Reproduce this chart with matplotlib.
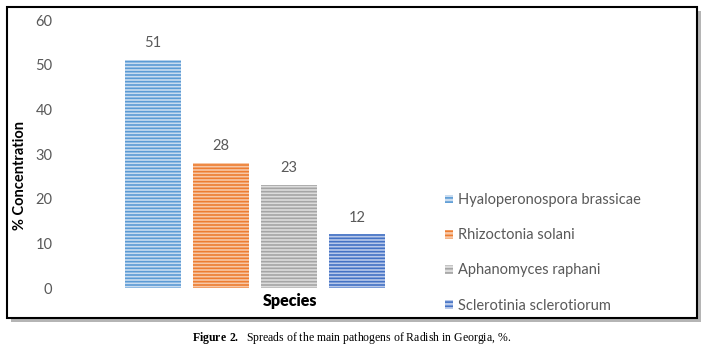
import matplotlib
matplotlib.use('Agg')
from matplotlib import pyplot as plt
from matplotlib.patches import Rectangle, Patch

species = ['Hyaloperonospora brassicae', 'Rhizoctonia solani',
           'Aphanomyces raphani', 'Sclerotinia sclerotiorum']
values = [51, 28, 23, 12]
face_colors = ['#c9dcf0', '#f7c7a6', '#dcdcdc', '#b9c9ea']
hatch_colors = ['#5b9bd5', '#ed7d31', '#a5a5a5', '#4472c4']
y_ticks = [0, 10, 20, 30, 40, 50, 60]

TEXT_GRAY = '#595959'


def main():
    plt.rcParams['hatch.linewidth'] = 1.2
    plt.rcParams['font.family'] = ['Lato', 'DejaVu Sans']
    plt.rcParams['mathtext.fontset'] = 'custom'
    plt.rcParams['mathtext.bf'] = 'Liberation Serif:bold'
    plt.rcParams['mathtext.rm'] = 'Liberation Serif'
    fig = plt.figure(figsize=(7.05, 3.53), dpi=100)
    W, H = 705, 353

    # frame with drop shadow
    fig.patches.append(Rectangle((11 / W, 31 / H), 690 / W, 311 / H, transform=fig.transFigure,
                                 facecolor='#b5b5b5', edgecolor='none', zorder=-3))
    fig.patches.append(Rectangle((7 / W, 35 / H), 690 / W, 311 / H, transform=fig.transFigure,
                                 facecolor='white', edgecolor='black', linewidth=1.5, zorder=-2))

    ax = fig.add_axes([90 / W, 65 / H, 330 / W, 268 / H])
    ax.set_facecolor('none')
    x = list(range(len(values)))
    ax.bar(x, values, width=0.82, color=face_colors, edgecolor=hatch_colors,
           linewidth=0, hatch='-----')
    for xi, v in zip(x, values):
        ax.text(xi, v + 2.2, str(v), ha='center', va='bottom', fontsize=10.5, color=TEXT_GRAY)

    ax.set_xlim(-0.926, 3.93)
    ax.set_ylim(0, 60)
    ax.set_yticks(y_ticks)
    ax.set_xticks([])
    ax.tick_params(axis='y', length=0, pad=27, labelsize=10.5, labelcolor=TEXT_GRAY)
    for s in ax.spines.values():
        s.set_visible(False)

    fig.text(20 / W, 1 - 175 / H, '% Concentration', rotation=90, ha='center', va='center',
             fontsize=10.5, fontweight='bold', color='black')
    fig.text(290 / W, 1 - 301 / H, 'Species', ha='center', va='center',
             fontsize=11.5, fontweight='heavy', color='black')

    handles = [Patch(facecolor=fc, edgecolor=hc, hatch='----', linewidth=0)
               for fc, hc in zip(face_colors, hatch_colors)]
    fig.legend(handles, species, loc='upper left', bbox_to_anchor=(432 / W, 1 - 180 / H),
               frameon=False, fontsize=10.5, handlelength=0.55, handleheight=0.55,
               handletextpad=0.35, labelspacing=1.45, labelcolor=TEXT_GRAY)

    fig.text(352 / W, 1 - 338 / H, r'$\mathbf{Figure\ 2.}$  Spreads of the main pathogens of Radish in Georgia, %.',
             ha='center', va='center', fontsize=8.5, family='Liberation Serif')

    fig.savefig('out.png', dpi=100)


if __name__ == '__main__':
    main()
